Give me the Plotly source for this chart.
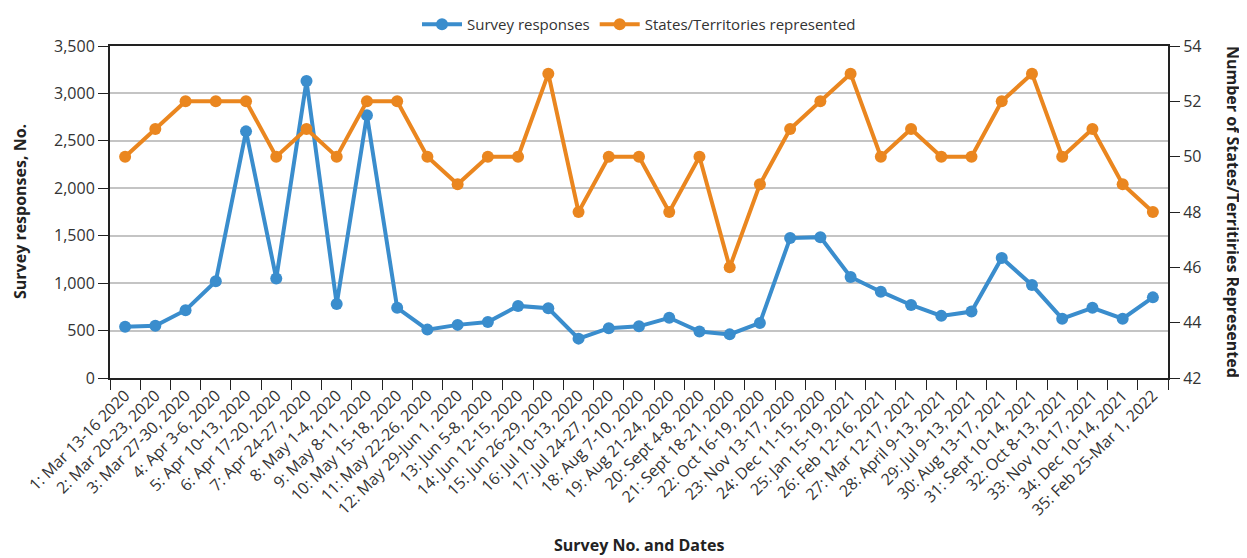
import plotly.graph_objects as go

labels = [
    "1: Mar 13-16 2020", "2: Mar 20-23, 2020", "3: Mar 27-30, 2020", "4: Apr 3-6, 2020",
    "5: Apr 10-13, 2020", "6: Apr 17-20, 2020", "7: Apr 24-27, 2020", "8: May 1-4, 2020",
    "9: May 8-11, 2020", "10: May 15-18, 2020", "11: May 22-26, 2020", "12: May 29-Jun 1, 2020",
    "13: Jun 5-8, 2020", "14: Jun 12-15, 2020", "15: Jun 26-29, 2020", "16: Jul 10-13, 2020",
    "17: Jul 24-27, 2020", "18: Aug 7-10, 2020", "19: Aug 21-24, 2020", "20: Sept 4-8, 2020",
    "21: Sept 18-21, 2020", "22: Oct 16-19, 2020", "23: Nov 13-17, 2020", "24: Dec 11-15, 2020",
    "25: Jan 15-19, 2021", "26: Feb 12-16, 2021", "27: Mar 12-17, 2021", "28: April 9-13, 2021",
    "29: Jul 9-13, 2021", "30: Aug 13-17, 2021", "31: Sept 10-14, 2021", "32: Oct 8-13, 2021",
    "33: Nov 10-17, 2021", "34: Dec 10-14, 2021", "35: Feb 25-Mar 1, 2022",
]

survey_responses = [
    540, 550, 715, 1020, 2600, 1050, 3130, 780, 2770, 740,
    510, 560, 590, 760, 735, 415, 525, 545, 635, 490,
    460, 580, 1475, 1485, 1065, 910, 770, 655, 700, 1265,
    980, 625, 740, 625, 850,
]

states_represented = [
    50, 51, 52, 52, 52, 50, 51, 50, 52, 52,
    50, 49, 50, 50, 53, 48, 50, 50, 48, 50,
    46, 49, 51, 52, 53, 50, 51, 50, 50, 52,
    53, 50, 51, 49, 48,
]

BLUE = "#3A8DCD"
ORANGE = "#EA861F"
FONT = "Open Sans"
TICK = dict(size=16, color="#333")
TITLE = dict(size=16, color="#222", family=FONT)

fig = go.Figure()
fig.add_trace(go.Scatter(
    x=labels, y=survey_responses, name="Survey responses",
    mode="lines+markers", line=dict(color=BLUE, width=4),
    marker=dict(color=BLUE, size=12), yaxis="y",
))
fig.add_trace(go.Scatter(
    x=labels, y=states_represented, name="States/Territories represented",
    mode="lines+markers", line=dict(color=ORANGE, width=4),
    marker=dict(color=ORANGE, size=12), yaxis="y2",
))

fig.update_layout(
    width=1247, height=558,
    margin=dict(l=102, r=87, t=38, b=188),
    paper_bgcolor="white", plot_bgcolor="white",
    font=dict(family=FONT, size=15, color="#222"),
    showlegend=True,
    legend=dict(orientation="h", x=0.5, xanchor="center",
                yref="container", y=1.0, yanchor="top",
                bgcolor="rgba(0,0,0,0)",
                font=dict(size=15, color="#333"), itemwidth=40),
    xaxis=dict(
        type="category", range=[-0.5, len(labels) - 0.5],
        tickangle=-45, tickson="boundaries",
        ticks="outside", ticklen=10, tickcolor="#222", automargin=False,
        showline=True, linecolor="#222", linewidth=2, mirror=True,
        showgrid=False, tickfont=TICK,
    ),
    yaxis=dict(
        range=[0, 3500], dtick=500, tickformat=",", automargin=False,
        showline=True, linecolor="#222", linewidth=2,
        ticks="outside", ticklen=10, tickcolor="#222",
        showgrid=True, gridcolor="#C4C4C4", gridwidth=1.5, zeroline=False,
        tickfont=TICK,
    ),
    yaxis2=dict(
        range=[42, 54], dtick=2, overlaying="y", side="right", automargin=False,
        showline=True, linecolor="#222", linewidth=2,
        ticks="outside", ticklen=10, tickcolor="#222",
        showgrid=False, zeroline=False,
        tickfont=TICK,
    ),
    annotations=[
        dict(text="<b>Number of States/Territiries Represented</b>",
             xref="paper", yref="paper", x=1.0, y=0.5, xshift=65,
             textangle=90, showarrow=False, font=TITLE,
             xanchor="center", yanchor="middle"),
        dict(text="<b>Survey responses, No.</b>",
             xref="paper", yref="paper", x=0.0, y=0.5, xshift=-90,
             textangle=-90, showarrow=False, font=TITLE,
             xanchor="center", yanchor="middle"),
        dict(text="<b>Survey No. and Dates</b>",
             xref="paper", yref="paper", x=0.5, y=0.0, yshift=-167,
             showarrow=False, font=TITLE,
             xanchor="center", yanchor="middle"),
    ],
)

fig.write_html("out.html")
